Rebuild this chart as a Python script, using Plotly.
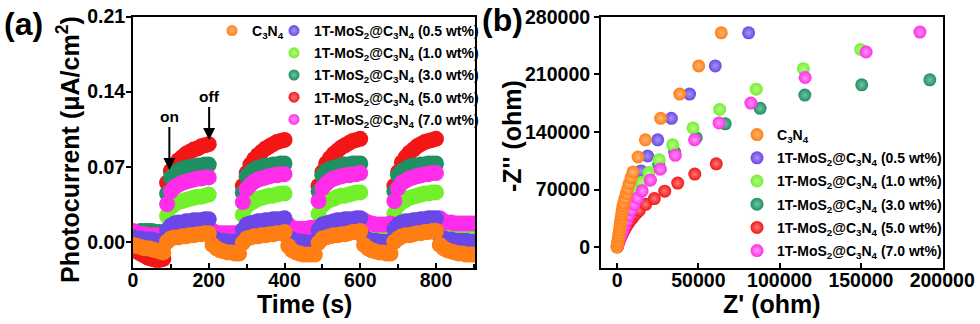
import plotly.graph_objects as go

# ---------------- Panel (a): transient photocurrent ----------------
time_s = [0, 10, 20, 30, 40, 50, 60, 70, 80,
          90, 100, 110, 120, 130, 140, 150, 160, 170, 180, 190, 200,
          210, 220, 230, 240, 250, 260, 270, 280,
          290, 300, 310, 320, 330, 340, 350, 360, 370, 380, 390, 400,
          410, 420, 430, 440, 450, 460, 470, 480,
          490, 500, 510, 520, 530, 540, 550, 560, 570, 580, 590, 600,
          610, 620, 630, 640, 650, 660, 670, 680,
          690, 700, 710, 720, 730, 740, 750, 760, 770, 780, 790, 800,
          810, 820, 830, 840, 850, 860, 870, 880, 890, 900]

pc_c3n4 = [-0.003, -0.004, -0.005, -0.006, -0.006, -0.007, -0.008, -0.009, -0.010,
           0.000, 0.003, 0.004, 0.004, 0.005, 0.005, 0.006, 0.006, 0.007, 0.007, 0.008, 0.008,
           -0.003, -0.006, -0.008, -0.009, -0.010, -0.010, -0.011, -0.011,
           -0.001, 0.003, 0.004, 0.005, 0.005, 0.006, 0.006, 0.007, 0.007, 0.008, 0.008, 0.009,
           -0.004, -0.008, -0.010, -0.011, -0.012, -0.012, -0.012, -0.012,
           -0.001, 0.003, 0.004, 0.005, 0.006, 0.006, 0.007, 0.007, 0.008, 0.009, 0.009, 0.010,
           -0.003, -0.006, -0.008, -0.009, -0.010, -0.010, -0.011, -0.011,
           0.000, 0.003, 0.005, 0.006, 0.006, 0.007, 0.008, 0.008, 0.009, 0.009, 0.010, 0.010,
           -0.003, -0.006, -0.008, -0.009, -0.010, -0.011, -0.011, -0.012, -0.012, -0.012]

pc_05 = [0.004, 0.003, 0.003, 0.002, 0.002, 0.002, 0.001, 0.001, 0.000,
         0.011, 0.015, 0.017, 0.018, 0.018, 0.019, 0.019, 0.020, 0.020, 0.020, 0.021, 0.021,
         0.004, 0.002, 0.001, 0.001, 0.000, 0.000, 0.000, -0.001,
         0.011, 0.016, 0.017, 0.018, 0.019, 0.019, 0.020, 0.020, 0.021, 0.021, 0.021, 0.022,
         0.004, 0.002, 0.001, 0.000, 0.000, -0.001, -0.001, -0.001,
         0.011, 0.016, 0.017, 0.018, 0.019, 0.020, 0.020, 0.021, 0.021, 0.021, 0.022, 0.022,
         0.004, 0.002, 0.001, 0.001, 0.000, 0.000, 0.000, 0.000,
         0.012, 0.016, 0.018, 0.019, 0.019, 0.020, 0.020, 0.021, 0.021, 0.022, 0.022, 0.022,
         0.005, 0.003, 0.002, 0.002, 0.001, 0.001, 0.001, 0.001, 0.000, 0.000]

pc_10 = [0.006, 0.006, 0.005, 0.005, 0.005, 0.005, 0.004, 0.004, 0.004,
         0.024, 0.032, 0.035, 0.037, 0.038, 0.039, 0.040, 0.041, 0.042, 0.042, 0.043, 0.044,
         0.008, 0.005, 0.004, 0.003, 0.003, 0.003, 0.002, 0.002,
         0.025, 0.033, 0.036, 0.038, 0.040, 0.041, 0.042, 0.043, 0.043, 0.044, 0.045, 0.045,
         0.009, 0.006, 0.005, 0.004, 0.004, 0.004, 0.004, 0.004,
         0.026, 0.034, 0.037, 0.039, 0.040, 0.042, 0.043, 0.043, 0.044, 0.045, 0.046, 0.046,
         0.011, 0.008, 0.007, 0.007, 0.006, 0.006, 0.006, 0.006,
         0.026, 0.034, 0.037, 0.039, 0.041, 0.042, 0.043, 0.044, 0.045, 0.045, 0.046, 0.046,
         0.012, 0.009, 0.008, 0.007, 0.007, 0.006, 0.006, 0.006, 0.005, 0.005]

pc_30 = [0.008, 0.009, 0.010, 0.010, 0.010, 0.010, 0.009, 0.009, 0.008,
         0.045, 0.060, 0.064, 0.066, 0.068, 0.069, 0.070, 0.070, 0.071, 0.071, 0.072, 0.072,
         0.010, 0.007, 0.006, 0.006, 0.006, 0.005, 0.005, 0.005,
         0.046, 0.061, 0.065, 0.067, 0.069, 0.070, 0.071, 0.071, 0.072, 0.072, 0.073, 0.073,
         0.010, 0.006, 0.005, 0.004, 0.004, 0.004, 0.004, 0.004,
         0.047, 0.062, 0.066, 0.068, 0.069, 0.070, 0.071, 0.072, 0.072, 0.073, 0.073, 0.073,
         0.010, 0.007, 0.006, 0.006, 0.005, 0.005, 0.005, 0.005,
         0.047, 0.062, 0.066, 0.068, 0.070, 0.071, 0.071, 0.072, 0.072, 0.073, 0.073, 0.073,
         0.010, 0.007, 0.006, 0.005, 0.005, 0.005, 0.004, 0.004, 0.004, 0.004]

pc_50 = [-0.006, -0.009, -0.011, -0.013, -0.015, -0.016, -0.017, -0.017, -0.016,
         0.055, 0.066, 0.072, 0.076, 0.079, 0.082, 0.084, 0.086, 0.087, 0.089, 0.090, 0.091,
         0.008, 0.005, 0.004, 0.004, 0.003, 0.003, 0.003, 0.003,
         0.052, 0.064, 0.072, 0.077, 0.081, 0.084, 0.087, 0.089, 0.091, 0.093, 0.094, 0.095,
         0.008, 0.005, 0.004, 0.003, 0.003, 0.003, 0.003, 0.003,
         0.052, 0.065, 0.073, 0.078, 0.082, 0.085, 0.088, 0.090, 0.092, 0.094, 0.095, 0.096,
         0.008, 0.005, 0.004, 0.004, 0.004, 0.004, 0.004, 0.004,
         0.052, 0.065, 0.074, 0.079, 0.083, 0.086, 0.089, 0.091, 0.093, 0.094, 0.095, 0.096,
         0.008, 0.006, 0.005, 0.005, 0.004, 0.004, 0.004, 0.004, 0.004, 0.004]

pc_70 = [0.010, 0.008, 0.007, 0.007, 0.006, 0.006, 0.006, 0.006, 0.006,
         0.035, 0.047, 0.051, 0.053, 0.055, 0.056, 0.057, 0.058, 0.059, 0.059, 0.060, 0.060,
         0.010, 0.008, 0.008, 0.008, 0.008, 0.008, 0.008, 0.008,
         0.037, 0.049, 0.053, 0.056, 0.058, 0.059, 0.060, 0.061, 0.062, 0.062, 0.063, 0.063,
         0.016, 0.013, 0.012, 0.012, 0.012, 0.012, 0.013, 0.013,
         0.038, 0.050, 0.054, 0.057, 0.059, 0.060, 0.061, 0.062, 0.062, 0.063, 0.063, 0.064,
         0.020, 0.018, 0.017, 0.016, 0.016, 0.016, 0.016, 0.017,
         0.038, 0.050, 0.055, 0.057, 0.059, 0.060, 0.061, 0.062, 0.063, 0.063, 0.064, 0.064,
         0.022, 0.019, 0.018, 0.018, 0.017, 0.017, 0.017, 0.017, 0.017, 0.017]

a_time_ticks = [0, 200, 400, 600, 800]
a_time_minor = [100, 300, 500, 700, 900]
a_pc_ticks = [0.00, 0.07, 0.14, 0.21]
a_pc_ticktext = ["0.00", "0.07", "0.14", "0.21"]
a_pc_inner_ticks = [0.0, 0.035, 0.07, 0.105, 0.14, 0.175, 0.21]

# ---------------- Panel (b): Nyquist plots ----------------
zr_c3n4 = [0, 250, 500, 750, 1000, 1250, 1500, 1750, 2000, 2250, 2500, 2800,
           3100, 3400, 3700, 4100, 4900, 5700, 6500, 7400, 8600, 9800, 12900,
           17400, 26800, 38500, 50200, 64100]
zi_c3n4 = [0, 3500, 7000, 10500, 14000, 17500, 21000, 24500, 28000, 31500, 35000, 39000,
           43000, 47000, 50500, 54000, 59500, 65300, 71000, 77400, 84500, 91500, 109600,
           130500, 156700, 186100, 220400, 260700]

zr_05 = [200, 500, 900, 1400, 2000, 2700, 3500, 4400, 5400, 6500, 7700, 9000,
         10500, 12300, 14700, 18800, 25000, 33400, 44600, 60400, 80900]
zi_05 = [1000, 4000, 8000, 12500, 17500, 23000, 29000, 35000, 41500, 48000, 55000, 62000,
         70000, 79400, 92700, 110800, 130500, 156700, 186100, 220400, 260700]

zr_10 = [200, 500, 900, 1400, 2100, 2900, 3800, 4800, 6000, 7300, 8800, 10500,
         12500, 15200, 19500, 25800, 34200, 46700, 63100, 85600, 114600, 149900]
zi_10 = [800, 3500, 7500, 12000, 17000, 22500, 28000, 34000, 40500, 47000, 54000, 61000,
         69000, 79000, 90700, 106400, 124500, 145000, 167500, 192100, 217100, 240400]

zr_30 = [100, 300, 700, 1200, 1800, 2500, 3300, 4200, 5300, 6500, 7900, 9500,
         11500, 14200, 18300, 25600, 35400, 48700, 66500, 88000, 115500, 150500, 192400]
zi_30 = [500, 2500, 6000, 10500, 15500, 21000, 26500, 32500, 39000, 45500, 52500, 60000,
         68500, 78000, 89000, 100700, 115600, 133000, 149900, 168800, 184900, 197400, 203500]

zr_50 = [100, 300, 700, 1200, 1800, 2500, 3300, 4200, 5200, 6300, 7500, 8800,
         10200, 11800, 13700, 17600, 22900, 29300, 37300, 47800, 61000]
zi_50 = [400, 1800, 4200, 6800, 9800, 13000, 16500, 20000, 23500, 27000, 30500, 34000,
         37500, 41000, 44700, 52000, 59000, 68100, 77900, 88900, 101300]

zr_70 = [200, 600, 1200, 1900, 2700, 3600, 4700, 5900, 7200, 8700, 10400, 12500,
         15400, 20500, 26600, 35800, 47700, 62700, 82300, 115700, 153200, 186300]
zi_70 = [1000, 3800, 7500, 11500, 16000, 21000, 26500, 32500, 38500, 45000, 52000, 59500,
         68500, 81400, 94700, 111600, 130500, 151100, 175200, 206300, 237300, 261500]

b_zr_ticks = [0, 50000, 100000, 150000, 200000]
b_zr_ticktext = ["0", "50000", "100000", "150000", "200000"]
b_zi_ticks = [0, 70000, 140000, 210000, 280000]
b_zi_ticktext = ["0", "70000", "140000", "210000", "280000"]

series_names = ["C<sub>3</sub>N<sub>4</sub>",
                "1T-MoS<sub>2</sub>@C<sub>3</sub>N<sub>4</sub> (0.5 wt%)",
                "1T-MoS<sub>2</sub>@C<sub>3</sub>N<sub>4</sub> (1.0 wt%)",
                "1T-MoS<sub>2</sub>@C<sub>3</sub>N<sub>4</sub> (3.0 wt%)",
                "1T-MoS<sub>2</sub>@C<sub>3</sub>N<sub>4</sub> (5.0 wt%)",
                "1T-MoS<sub>2</sub>@C<sub>3</sub>N<sub>4</sub> (7.0 wt%)"]

colors = ["#FF7E14", "#6A47E6", "#72F02A", "#1F9062", "#F21616", "#FF2DEA"]
highlights = ["#FFB878", "#A892F5", "#B8F890", "#72C4A2", "#FF7A7A", "#FF98F3"]

FONT = "Liberation Sans, Arial, Helvetica, sans-serif"

pc_series = [pc_c3n4, pc_05, pc_10, pc_30, pc_50, pc_70]
nyq_series = [(zr_c3n4, zi_c3n4), (zr_05, zi_05), (zr_10, zi_10),
              (zr_30, zi_30), (zr_50, zi_50), (zr_70, zi_70)]

fig = go.Figure()

# panel (a) data: draw order so that lower bands sit on top where they overlap
a_order = [4, 3, 2, 5, 1, 0]
for i in a_order:
    fig.add_trace(go.Scatter(
        x=time_s, y=pc_series[i], mode="markers", xaxis="x", yaxis="y",
        marker=dict(size=16, color=colors[i], line=dict(width=0)),
        showlegend=False, hoverinfo="skip", name=series_names[i]))

# panel (a) legend entries (legend-only, sphere look)
for i in range(6):
    fig.add_trace(go.Scatter(
        x=[None], y=[None], mode="markers", xaxis="x", yaxis="y",
        marker=dict(size=11, color=colors[i],
                    gradient=dict(type="radial", color=highlights[i])),
        name=series_names[i], legend="legend" if i == 0 else "legend2",
        legendgroup="a%d" % i, showlegend=True))

# panel (b) data
b_order = [3, 1, 2, 4, 5, 0]
for i in b_order:
    zr, zi = nyq_series[i]
    fig.add_trace(go.Scatter(
        x=zr, y=zi, mode="markers", xaxis="x2", yaxis="y2",
        marker=dict(size=13, color=colors[i],
                    gradient=dict(type="radial", color=highlights[i])),
        name=series_names[i], legend="legend3", legendgroup="b%d" % i,
        legendrank=i + 1, showlegend=True))

axis_common = dict(showline=True, linecolor="black", linewidth=2, mirror=True,
                   showgrid=False, zeroline=False, automargin=False,
                   tickfont=dict(family=FONT, size=19.5, color="black", weight="bold"))
overlay_common = dict(showticklabels=False, showline=False, showgrid=False,
                      zeroline=False, automargin=False, tickcolor="black", tickwidth=1.5)

xa_dom = [133 / 980, 475 / 980]
xb_dom = [601 / 980, 943 / 980]
y_dom = [1 - 268 / 324, 1 - 16.5 / 324]

fig.update_layout(
    width=980, height=324,
    margin=dict(l=0, r=0, t=0, b=0, autoexpand=False),
    paper_bgcolor="white", plot_bgcolor="white",
    font=dict(family=FONT, color="black"),
    xaxis=dict(domain=xa_dom, anchor="y", range=[0, 903],
               tickmode="array", tickvals=a_time_ticks, ticks="inside", ticklen=5,
               tickwidth=1.5, tickcolor="black", ticklabelstandoff=-6,
               minor=dict(tickvals=a_time_minor, ticks="inside", ticklen=4,
                          tickcolor="black", tickwidth=1.5),
               **axis_common),
    yaxis=dict(domain=y_dom, anchor="x", range=[-0.0245, 0.2101],
               tickmode="array", tickvals=a_pc_ticks, ticktext=a_pc_ticktext,
               ticks="outside", ticklen=5, tickwidth=1.5, tickcolor="black",
               ticklabelstandoff=-3,
               **axis_common),
    yaxis3=dict(overlaying="y", anchor="x", side="left", range=[-0.0245, 0.2101],
                tickmode="array", tickvals=a_pc_inner_ticks, ticks="inside", ticklen=4,
                **overlay_common),
    xaxis2=dict(domain=xb_dom, anchor="y2", range=[-9900, 200500],
                tickmode="array", tickvals=b_zr_ticks, ticktext=b_zr_ticktext,
                ticks="inside", ticklen=5, tickwidth=1.5, tickcolor="black",
                ticklabelstandoff=-6,
                **axis_common),
    yaxis2=dict(domain=y_dom, anchor="x2", range=[-25400, 280500],
                tickmode="array", tickvals=b_zi_ticks, ticktext=b_zi_ticktext,
                ticks="outside", ticklen=5, tickwidth=1.5, tickcolor="black",
                **axis_common),
    yaxis4=dict(overlaying="y2", anchor="x2", side="left", range=[-25400, 280500],
                tickmode="array", tickvals=b_zi_ticks, ticks="inside", ticklen=4,
                **overlay_common),
    legend=dict(x=212 / 980, y=1 - 15 / 324, xanchor="left", yanchor="top",
                bgcolor="rgba(0,0,0,0)", itemwidth=30, tracegroupgap=1,
                font=dict(family=FONT, size=14, color="black", weight="bold")),
    legend2=dict(x=274 / 980, y=1 - 15 / 324, xanchor="left", yanchor="top",
                 bgcolor="rgba(0,0,0,0)", itemwidth=30, tracegroupgap=1,
                 font=dict(family=FONT, size=14, color="black", weight="bold")),
    legend3=dict(x=737 / 980, y=1 - 119 / 324, xanchor="left", yanchor="top",
                 bgcolor="rgba(0,0,0,0)", itemwidth=30, tracegroupgap=2,
                 traceorder="grouped",
                 font=dict(family=FONT, size=14, color="black", weight="bold")),
)

title_font = dict(family=FONT, size=25, color="black", weight="bold")
annos = [
    dict(text="(a)", x=2 / 980, y=1 - 24 / 324, xanchor="left", yanchor="middle",
         font=dict(family=FONT, size=32, color="black", weight="bold")),
    dict(text="(b)", x=480 / 980, y=1 - 20 / 324, xanchor="left", yanchor="middle",
         font=dict(family=FONT, size=32, color="black", weight="bold")),
    dict(text="Time (s)", x=304 / 980, y=1 - 304 / 324, xanchor="center", yanchor="middle",
         font=title_font),
    dict(text="Z' (ohm)", x=772 / 980, y=1 - 304 / 324, xanchor="center", yanchor="middle",
         font=title_font),
    dict(text="Photocurrent (μA/cm<sup>2</sup>)", x=68 / 980, y=1 - 150 / 324,
         xanchor="center", yanchor="middle", textangle=-90, font=title_font),
    dict(text="-Z'' (ohm)", x=512 / 980, y=1 - 136 / 324,
         xanchor="center", yanchor="middle", textangle=-90, font=title_font),
]
for a in annos:
    fig.add_annotation(xref="paper", yref="paper", showarrow=False, **a)

arrow_font = dict(family=FONT, size=15.5, color="black", weight="bold")
fig.add_annotation(xref="x", yref="y", x=96, y=0.067, ax=0, ay=-53, text="on",
                   showarrow=True, arrowhead=2, arrowsize=1.2, arrowwidth=2,
                   arrowcolor="black", font=arrow_font)
fig.add_annotation(xref="x", yref="y", x=201, y=0.095, ax=0, ay=-43, text="off",
                   showarrow=True, arrowhead=2, arrowsize=1.2, arrowwidth=2,
                   arrowcolor="black", font=arrow_font)

fig.write_html("out.html", config={"displayModeBar": False},
               post_script="document.body.style.margin='0';"
                           "document.body.style.overflow='hidden';")
